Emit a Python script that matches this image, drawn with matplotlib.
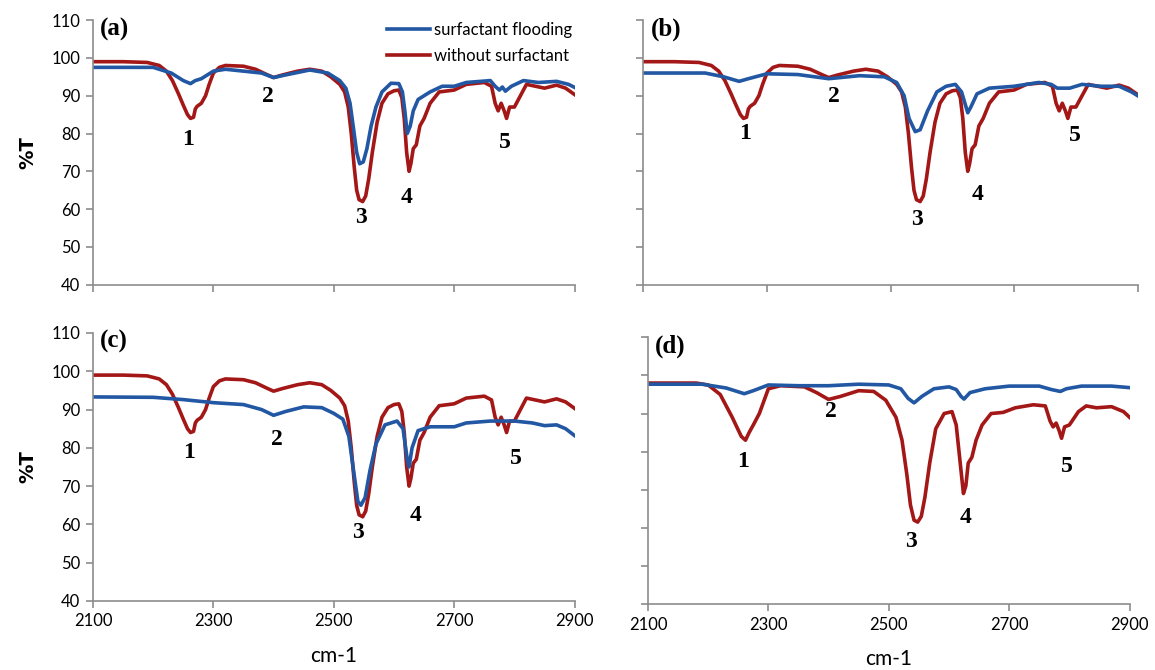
import matplotlib.pyplot as plt

# wavenumber (cm-1) / %T points
# "without surfactant" is the same spectrum in (a), (b) and (c)
red_x = [2100, 2150, 2190, 2210, 2222, 2232, 2242, 2250, 2257, 2262, 2267, 2270, 2273, 2280,
         2287, 2293, 2300, 2310, 2320, 2350, 2370, 2390, 2400, 2415, 2440, 2460, 2480, 2495,
         2510, 2518, 2524, 2529, 2534, 2538, 2542, 2548, 2553, 2558, 2564, 2572, 2580, 2590,
         2600, 2608, 2613, 2617, 2621, 2625, 2628, 2632, 2637, 2643, 2650, 2660, 2675, 2700,
         2720, 2750, 2762, 2768, 2773, 2778, 2783, 2787, 2792, 2800, 2810, 2820, 2835, 2850,
         2870, 2885, 2900]
red_y = [99, 99, 98.8, 98, 96.5, 94, 90.5, 87.5, 85, 84, 84.3, 86.5, 87.2, 88,
         90, 93, 96, 97.5, 98, 97.8, 97, 95.5, 94.8, 95.5, 96.5, 97, 96.5, 95,
         93, 91, 87, 80, 71, 65, 62.5, 62, 63.5, 68, 75, 83, 88, 90.5,
         91.3, 91.5, 89.5, 84, 75, 70, 72, 76, 77, 82, 84, 88, 91, 91.5,
         93, 93.5, 92.5, 88, 86, 88, 86, 84, 87, 87, 90, 93, 92.5, 92,
         92.8, 92, 90.3]

blue_a_x = [2100, 2200, 2230, 2250, 2262, 2270, 2280, 2300, 2320, 2380, 2400, 2420, 2460, 2490,
            2510, 2520, 2527, 2533, 2538, 2543, 2549, 2555, 2562, 2570, 2580, 2595, 2608, 2614,
            2618, 2622, 2627, 2632, 2640, 2660, 2680, 2700, 2720, 2760, 2768, 2775, 2780, 2785,
            2795, 2815, 2840, 2870, 2890, 2900]
blue_a_y = [97.5, 97.5, 96, 94, 93.2, 94, 94.5, 96.5, 97, 96, 94.8, 95.5, 96.8, 96,
            94, 92, 88, 81, 75, 72, 72.5, 76, 82, 87, 91, 93.3, 93.2, 91,
            86, 80, 82, 86, 89, 91, 92.5, 92.5, 93.5, 94, 92.5, 91.5, 92.3, 91.2,
            92.5, 94, 93.5, 93.8, 93, 92.2]

blue_b_x = [2100, 2200, 2230, 2255, 2270, 2300, 2350, 2400, 2450, 2490, 2510, 2522, 2530, 2540,
            2548, 2560, 2575, 2590, 2605, 2615, 2625, 2630, 2640, 2660, 2700, 2740, 2760, 2770,
            2790, 2810, 2840, 2870, 2890, 2900]
blue_b_y = [96, 96, 95, 93.8, 94.5, 95.8, 95.6, 94.5, 95.3, 95, 93.5, 90, 84, 80.5,
            81, 86, 91, 92.5, 93, 91, 85.5, 87, 90.5, 92, 92.5, 93.5, 93, 92,
            92, 93, 92.5, 92.5, 91, 90]

blue_c_x = [2100, 2200, 2250, 2300, 2350, 2380, 2400, 2420, 2450, 2480, 2500, 2515, 2525, 2532,
            2540, 2545, 2552, 2560, 2570, 2585, 2605, 2615, 2622, 2625, 2630, 2640, 2660, 2700,
            2720, 2760, 2800, 2830, 2850, 2870, 2885, 2900]
blue_c_y = [93.3, 93.2, 92.6, 91.8, 91.3, 90, 88.5, 89.5, 90.7, 90.5, 89, 87.5, 83, 75,
            66, 65, 67, 74, 81, 86, 87, 85, 77, 75, 80, 84.5, 85.5, 85.5,
            86.5, 87, 87, 86.5, 85.8, 86, 85, 83.2]

red_d_x = [2100, 2180, 2200, 2220, 2240, 2255, 2262, 2268, 2275, 2285, 2300, 2320, 2360, 2380,
           2400, 2420, 2450, 2475, 2495, 2512, 2522, 2530, 2536, 2542, 2548, 2554, 2560, 2568,
           2578, 2592, 2605, 2612, 2618, 2624, 2628, 2632, 2638, 2645, 2655, 2670, 2690, 2710,
           2740, 2760, 2768, 2773, 2778, 2783, 2787, 2792, 2800, 2815, 2828, 2845, 2870, 2890,
           2900]
red_d_y = [98, 98, 97.5, 95, 89, 84, 83, 85, 87, 90, 96.5, 97.3, 97, 95.5,
           93.7, 94.5, 96, 95.8, 93.5, 89, 83, 74, 66, 62, 61.5, 63, 68, 77,
           86, 90, 90.5, 87, 78, 69, 71, 77, 78.5, 83, 87, 90, 90.3, 91.5,
           92.3, 92, 88, 86.5, 87.5, 85.5, 83.5, 86.5, 87, 90.5, 92, 91.5, 91.8, 90.5,
           89]

blue_d_x = [2100, 2190, 2230, 2260, 2275, 2300, 2350, 2400, 2450, 2500, 2520, 2532, 2542, 2555,
            2575, 2600, 2612, 2620, 2625, 2635, 2660, 2700, 2750, 2770, 2785, 2795, 2820, 2870,
            2900]
blue_d_y = [97.7, 97.7, 96.7, 95.2, 96, 97.5, 97.3, 97.3, 97.7, 97.5, 96.5, 94, 92.8, 94.5,
            96.5, 97, 96.3, 94.5, 93.8, 95.5, 96.5, 97.2, 97.2, 96.3, 95.8, 96.5, 97.2, 97.2,
            96.8]

panel_names = ['(a)', '(b)', '(c)', '(d)']
peak_names = ['1', '2', '3', '4', '5']

# where the peak numbers sit in each panel
peak_pos = {
  '(a)': [(2258, 78.3), (2390, 89.7), (2545, 57.7), (2621, 63.2), (2784, 77.5)],
  '(b)': [(2265, 79.9), (2409, 89.7), (2542, 57.2), (2641, 64.0), (2798, 79.6)],
  '(c)': [(2259, 78.7), (2405, 82.3), (2540, 57.8), (2636, 62.3), (2802, 77.3)],
  '(d)': [(2258, 77.5), (2404, 90.6), (2537, 56.5), (2628, 62.8), (2795, 76.2)],
}

blue = '#2257a3'
red = '#a31717'
gray = '#8c8c8c'

fig = plt.figure(figsize=(11.55, 6.7), dpi=100)
rects = [[0.0805, 0.575, 0.417, 0.395],
         [0.557, 0.575, 0.428, 0.395],
         [0.0805, 0.103, 0.417, 0.400],
         [0.561, 0.0985, 0.417, 0.398]]

curves = [(red_x, red_y, blue_a_x, blue_a_y),
          (red_x, red_y, blue_b_x, blue_b_y),
          (red_x, red_y, blue_c_x, blue_c_y),
          (red_d_x, red_d_y, blue_d_x, blue_d_y)]

for i, name in enumerate(panel_names):
  ax = fig.add_axes(rects[i])
  rx, ry, bx, by = curves[i]
  ax.plot(rx, ry, color=red, lw=2.6, label='without surfactant', solid_joinstyle='round')
  ax.plot(bx, by, color=blue, lw=2.6, label='surfactant flooding', solid_joinstyle='round')

  ax.set_xlim(2100, 2900)
  ax.set_ylim(40, 110)
  ax.set_xticks(range(2100, 2901, 200))
  ax.set_yticks(range(40, 111, 10))
  for s in ['top', 'right']:
    ax.spines[s].set_visible(False)
  for s in ['left', 'bottom']:
    ax.spines[s].set_color(gray)
    ax.spines[s].set_linewidth(1.2)
  ax.tick_params(color=gray, length=5, width=1.2, labelsize=12, pad=4)
  for lab in ax.get_xticklabels() + ax.get_yticklabels():
    lab.set_family('Lato')

  if i % 2 == 1:
    ax.set_yticklabels([])
  else:
    ax.set_ylabel('%T', fontsize=14, fontweight='bold', family='DejaVu Sans', labelpad=10)
  if i < 2:
    ax.set_xticklabels([])
  else:
    ax.set_xlabel('cm-1', fontsize=15, family='Lato', labelpad=12)

  ax.text(0.015, 1.01, name, transform=ax.transAxes, fontsize=18, fontweight='bold',
          family='Liberation Serif', va='top', ha='left')
  for p, (px, py) in zip(peak_names, peak_pos[name]):
    ax.text(px, py, p, fontsize=17, fontweight='bold', family='Liberation Serif',
            ha='center', va='center')

  if i == 0:
    h, l = ax.get_legend_handles_labels()
    ax.legend(h[::-1], l[::-1], loc='upper right', bbox_to_anchor=(1.025, 1.05), frameon=False,
              handlelength=2.6, handletextpad=0.2, labelspacing=0.6,
              prop={'family': 'Lato', 'size': 12})

fig.savefig('out.png', dpi=100)
